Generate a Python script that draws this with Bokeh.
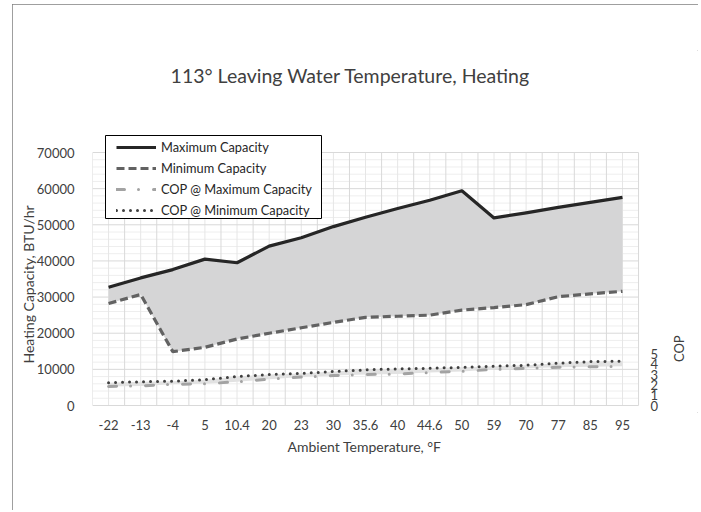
import math
from bokeh.plotting import figure
from bokeh.models import (Range1d, FixedTicker, Label, Legend, LegendItem, Title,
                          NumeralTickFormatter, ColumnDataSource, BoxAnnotation)
from bokeh.core.properties import value
from bokeh.embed import file_html
from bokeh.resources import INLINE

# ---- data ----
temps = ["-22", "-13", "-4", "5", "10.4", "20", "23", "30", "35.6", "40",
         "44.6", "50", "59", "70", "77", "85", "95"]
max_capacity = [32700, 35300, 37600, 40500, 39500, 44100, 46400, 49500, 52100,
                54500, 56800, 59400, 51900, 53300, 54800, 56200, 57600]
min_capacity = [28200, 30700, 14900, 16100, 18400, 20000, 21500, 23000, 24400,
                24700, 25000, 26400, 27100, 27900, 30100, 30900, 31600]
cop_max = [1.85, 1.9, 2.05, 2.1, 2.3, 2.55, 2.75, 2.9, 3.0,
           3.05, 3.2, 3.3, 3.5, 3.6, 3.7, 3.75, 3.8]
cop_min = [2.2, 2.3, 2.35, 2.5, 2.8, 3.0, 3.1, 3.3, 3.45,
           3.55, 3.6, 3.7, 3.8, 3.9, 4.1, 4.25, 4.3]
cap_ticks = [0, 10000, 20000, 30000, 40000, 50000, 60000, 70000]
cop_ticks = [0, 1, 2, 3, 4, 5]

FONT = "Lato"
TXT = "#404040"
n = len(temps)
xs = list(range(n))

# ---- layout (page pixels) ----
FIG_L, FIG_T, FIG_W, FIG_H = 12, 4, 686, 506
FR_L, FR_R, FR_T, FR_B = 92, 698, 50, 412      # frame (drawing area)
AREA_B, AREA_H = 405, 253                      # capacity 0..70000 area
CAP_MAX, COP_MAX = 70000, 24.5
PITCH = 32.12                                  # px per category

cap_per_px = CAP_MAX / AREA_H
cop_per_px = COP_MAX / AREA_H


def px_x(sx):
    return -0.5 + (sx - FR_L) / PITCH


def px_y(sy):
    return (AREA_B - sy) * cap_per_px


p = figure(width=FIG_W, height=FIG_H, output_backend="svg", toolbar_location=None,
           x_range=Range1d(-0.5, px_x(FR_R)),
           y_range=Range1d(px_y(FR_B), px_y(FR_T)),
           min_border_left=FR_L - FIG_L, min_border_right=FIG_L + FIG_W - FR_R,
           min_border_top=FR_T - FIG_T, min_border_bottom=FIG_T + FIG_H - FR_B)
p.margin = (FIG_T, 0, 0, FIG_L)
p.extra_y_ranges = {"cop": Range1d(-(FR_B - AREA_B) * cop_per_px,
                                   (AREA_B - FR_T) * cop_per_px)}
p.outline_line_color = None
p.xgrid.visible = False
p.ygrid.visible = False
p.background_fill_color = "white"
p.border_fill_color = "white"
p.styles = {"outline": "1px solid #7f7f7f", "outline-offset": "-1px"}

# axes
p.xaxis.ticker = FixedTicker(ticks=xs)
p.xaxis.major_label_overrides = {i: t for i, t in zip(xs, temps)}
p.xaxis.axis_line_color = None
p.xaxis.major_label_standoff = 1

p.yaxis.ticker = FixedTicker(ticks=cap_ticks)
p.yaxis.formatter = NumeralTickFormatter(format="0")
p.yaxis.axis_line_color = None
p.yaxis.major_label_standoff = 12

for ax in [p.xaxis[0], p.yaxis[0]]:
    ax.major_tick_line_color = None
    ax.minor_tick_line_color = None
    ax.major_label_text_font = FONT
    ax.major_label_text_font_size = "13px"
    ax.major_label_text_color = TXT

# axis titles as side-panel titles
ylab = Title(text="Heating Capacity, BTU/hr", align="left", offset=49,
             text_font=FONT, text_font_size="14px", text_font_style="normal",
             text_color=TXT)
xlab = Title(text="Ambient Temperature, °F", align="left", offset=195,
             text_font=FONT, text_font_size="14px", text_font_style="normal",
             text_color=TXT)
try:
    ylab.standoff = -7
    xlab.standoff = 6
except Exception:
    pass
p.add_layout(ylab, "left")
p.add_layout(xlab, "below")

# grid lines (limited to the category/capacity area)
x_lo, x_hi = -0.5, n - 0.5
minor_y = [v for v in range(0, CAP_MAX + 1, 2000) if v % 10000]
p.segment(x0=x_lo, x1=x_hi, y0=minor_y, y1=minor_y, line_color="#eeeeee", line_width=1)
p.segment(x0=xs, x1=xs, y0=0, y1=CAP_MAX, line_color="#e6e6e6", line_width=1)
bounds = [i - 0.5 for i in range(n + 1)]
p.segment(x0=bounds, x1=bounds, y0=0, y1=CAP_MAX, line_color="#d9d9d9", line_width=1)
p.segment(x0=x_lo, x1=x_hi, y0=cap_ticks, y1=cap_ticks, line_color="#d9d9d9", line_width=1)

# fills
p.varea(x=xs, y1=min_capacity, y2=max_capacity, fill_color="#d5d5d6")
p.varea(x=xs, y1=cop_max, y2=cop_min, fill_color="#e2e2e2", y_range_name="cop")

# lines
r_max = p.line(xs, max_capacity, line_color="#262626", line_width=3.2, line_join="round")
r_min = p.line(xs, min_capacity, line_color="#626262", line_width=3.2, line_dash="8 4")
r_cmax = p.line(xs, cop_max, line_color="#a3a3a3", line_width=3, line_dash="8 14 0 15",
                line_cap="round", y_range_name="cop")
r_cmin = p.line(xs, cop_min, line_color="#404040", line_width=3, line_dash="0 7",
                line_cap="round", y_range_name="cop")

# secondary (COP) tick labels
cop_src = ColumnDataSource(dict(y=cop_ticks, t=[str(v) for v in cop_ticks]))
p.text(x=px_x(650), y="y", text="t", source=cop_src, y_range_name="cop",
       text_font=value(FONT), text_font_size="13px", text_color=TXT,
       text_align="left", text_baseline="middle")

# legend box + legend
p.add_layout(BoxAnnotation(left=px_x(105), right=px_x(321), top=px_y(135), bottom=px_y(218),
                           fill_color="white", fill_alpha=1,
                           line_color="black", line_width=1, line_alpha=1))
legend = Legend(items=[LegendItem(label="Maximum Capacity", renderers=[r_max]),
                       LegendItem(label="Minimum Capacity", renderers=[r_min]),
                       LegendItem(label="COP @ Maximum Capacity", renderers=[r_cmax]),
                       LegendItem(label="COP @ Minimum Capacity", renderers=[r_cmin])],
                location=(118 - 2 - FR_L, FR_B - 218))
legend.border_line_color = None
legend.background_fill_alpha = 0
legend.padding = 2
legend.spacing = 5
legend.margin = 0
legend.label_height = 16
legend.glyph_height = 16
legend.glyph_width = 40
legend.label_standoff = 5
legend.label_text_font = FONT
legend.label_text_font_size = "12.8px"
legend.label_text_color = "#262626"
p.add_layout(legend)

# chart title and COP axis title
p.add_layout(Label(x=px_x(350), y=px_y(75),
                   text="113° Leaving Water Temperature, Heating",
                   text_font=FONT, text_font_size="19.5px", text_color=TXT,
                   text_align="center", text_baseline="middle"))
p.add_layout(Label(x=px_x(678), y=5.5, y_range_name="cop", text="COP",
                   angle=math.pi / 2,
                   text_font=FONT, text_font_size="13px", text_color=TXT,
                   text_align="center", text_baseline="middle"))

open("out.html", "w").write(file_html(p, INLINE))
